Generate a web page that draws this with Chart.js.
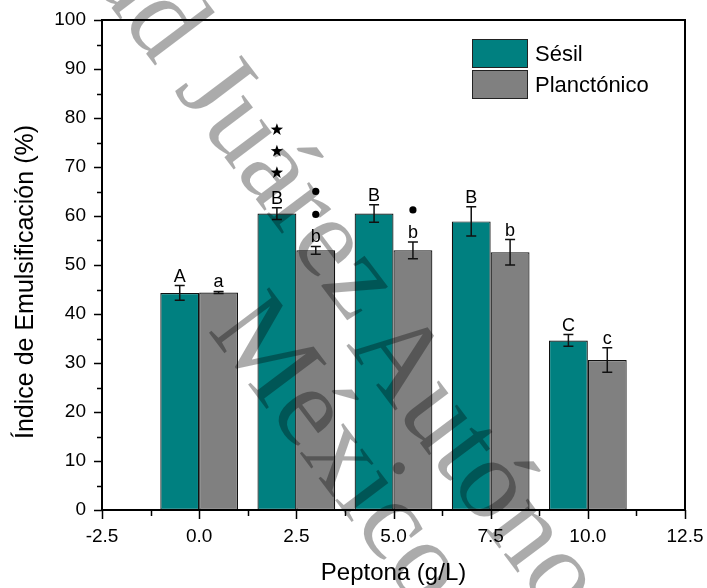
<!DOCTYPE html>
<html>
<head>
<meta charset="utf-8">
<script src="https://cdn.jsdelivr.net/npm/chart.js@4.4.0/dist/chart.umd.min.js"></script>
<style>
  html, body { margin: 0; padding: 0; background: #fff; }
</style>
</head>
<body>
<canvas id="chart" width="707" height="588"></canvas>
<script>
const peptona = [0, 2.5, 5, 7.5, 10];
const sesil = [44.3, 60.5, 60.5, 58.9, 34.6];
const sesilErr = [1.5, 1.2, 1.8, 3.0, 1.2];
const planctonico = [44.4, 53.0, 53.0, 52.6, 30.6];
const planctonicoErr = [0.2, 0.8, 1.7, 2.6, 2.5];
const sesilLetters = ['A', 'B', 'B', 'B', 'C'];
const planctonicoLetters = ['a', 'b', 'b', 'b', 'c'];
const sesilStars = [0, 3, 0, 0, 0];
const planctonicoDots = [0, 2, 1, 0, 0];

const FONT = '"Liberation Sans", Arial, sans-serif';
Chart.defaults.font.family = FONT;
Chart.defaults.color = '#000';

function drawStar(ctx, cx, cy, r) {
  ctx.beginPath();
  for (let k = 0; k < 10; k++) {
    const rad = k % 2 === 0 ? r : r * 0.4;
    const a = -Math.PI / 2 + k * Math.PI / 5;
    const px = cx + rad * Math.cos(a), py = cy + rad * Math.sin(a);
    if (k === 0) ctx.moveTo(px, py); else ctx.lineTo(px, py);
  }
  ctx.closePath();
  ctx.fill();
}

// quita el relleno extra que Chart.js deja para las etiquetas
function noPadding(s) {
  s.paddingTop = 0; s.paddingBottom = 0; s.paddingLeft = 0; s.paddingRight = 0;
}

const extras = {
  id: 'extras',
  afterDatasetsDraw(chart) {
    const ctx = chart.ctx;
    const y = chart.scales.y, x = chart.scales.x;
    const area = chart.chartArea;
    ctx.save();

    // ejes y marco
    ctx.strokeStyle = '#000';
    ctx.lineWidth = 2;
    ctx.strokeRect(area.left, area.top, area.right - area.left, area.bottom - area.top);
    ctx.lineWidth = 1.5;
    ctx.beginPath();
    for (let v = 0; v <= 100; v += 5) {
      const py = Math.round(y.getPixelForValue(v)) + 0.5;
      const len = v % 10 === 0 ? 8 : 5;
      ctx.moveTo(area.left - len, py);
      ctx.lineTo(area.left, py);
    }
    for (let k = 0; k <= 12; k++) {
      const px = Math.round(x.getPixelForValue(-2.5 + k * 1.25)) + 0.5;
      const len = k % 2 === 0 ? 9 : 6;
      ctx.moveTo(px, area.bottom);
      ctx.lineTo(px, area.bottom + len);
    }
    ctx.stroke();

    // barras de error, letras y marcas
    const errs = [sesilErr, planctonicoErr];
    const letters = [sesilLetters, planctonicoLetters];
    chart.data.datasets.forEach((ds, d) => {
      const meta = chart.getDatasetMeta(d);
      meta.data.forEach((bar, i) => {
        const v = ds.data[i].y;
        const top = y.getPixelForValue(v + errs[d][i]);
        const bot = y.getPixelForValue(v - errs[d][i]);
        ctx.strokeStyle = '#111';
        ctx.lineWidth = 1.5;
        ctx.beginPath();
        ctx.moveTo(bar.x, top); ctx.lineTo(bar.x, bot);
        ctx.moveTo(bar.x - 5, top); ctx.lineTo(bar.x + 5, top);
        ctx.moveTo(bar.x - 5, bot); ctx.lineTo(bar.x + 5, bot);
        ctx.stroke();

        const base = top - 4;
        ctx.fillStyle = '#000';
        ctx.font = '18px ' + FONT;
        ctx.textAlign = 'center';
        ctx.textBaseline = 'alphabetic';
        ctx.fillText(letters[d][i], bar.x, base);

        if (d === 0) {
          for (let k = 0; k < sesilStars[i]; k++) drawStar(ctx, bar.x, base - 31 - k * 21.5, 6.5);
        } else {
          for (let k = 0; k < planctonicoDots[i]; k++) {
            ctx.beginPath();
            ctx.arc(bar.x, base - 28 - k * 23, 3.6, 0, Math.PI * 2);
            ctx.fill();
          }
        }
      });
    });

    // leyenda
    chart.data.datasets.forEach((ds, d) => {
      const top = 39 + d * 31;
      ctx.fillStyle = ds.backgroundColor;
      ctx.fillRect(472, top, 55, 28);
      ctx.strokeStyle = '#222';
      ctx.lineWidth = 1;
      ctx.strokeRect(472.5, top + 0.5, 55, 28);
      ctx.fillStyle = '#000';
      ctx.font = '22px ' + FONT;
      ctx.textAlign = 'left';
      ctx.textBaseline = 'alphabetic';
      ctx.fillText(ds.label, 535, top + 22);
    });

    // título eje y
    ctx.translate(33, 282);
    ctx.rotate(-Math.PI / 2);
    ctx.font = '25px ' + FONT;
    ctx.textAlign = 'center';
    ctx.textBaseline = 'alphabetic';
    ctx.fillText('Índice de Emulsificación (%)', 0, 0);
    ctx.restore();
  },
  afterDraw(chart) {
    // marca de agua
    const ctx = chart.ctx;
    const fs = 115;
    const th = 53 * Math.PI / 180;
    const dx = Math.cos(th), dy = Math.sin(th);
    const ux = Math.sin(th), uy = -Math.cos(th);
    ctx.save();
    ctx.font = fs + 'px "Liberation Serif", "Times New Roman", serif';
    ctx.fillStyle = 'rgba(0,0,0,0.33)';
    ctx.textBaseline = 'alphabetic';
    ctx.textAlign = 'left';
    const pieces = [
      { text: 'Universidad Juárez', pre: 'Universidad Juár', ch: 'e', h: 0.23, cx: 325, cy: 247 },
      { text: 'Autónoma de Tabasco', pre: '', ch: 'A', h: 0.33, cx: 401, cy: 355 },
      { text: 'México', pre: '', ch: 'M', h: 0.33, cx: 268, cy: 348 }
    ];
    pieces.forEach(p => {
      const off = ctx.measureText(p.pre).width + ctx.measureText(p.ch).width / 2;
      const bx = p.cx - p.h * fs * ux, by = p.cy - p.h * fs * uy;
      ctx.save();
      ctx.translate(bx - off * dx, by - off * dy);
      ctx.rotate(th);
      ctx.fillText(p.text, 0, 0);
      ctx.restore();
    });
    ctx.restore();
  }
};

new Chart(document.getElementById('chart'), {
  type: 'bar',
  data: {
    datasets: [
      {
        label: 'Sésil',
        data: peptona.map((p, i) => ({ x: p, y: sesil[i] })),
        backgroundColor: '#008080',
        borderColor: '#111',
        borderWidth: 1.2,
        borderSkipped: false,
        categoryPercentage: 0.8,
        barPercentage: 1.0
      },
      {
        label: 'Planctónico',
        data: peptona.map((p, i) => ({ x: p, y: planctonico[i] })),
        backgroundColor: '#808080',
        borderColor: '#111',
        borderWidth: 1.2,
        borderSkipped: false,
        categoryPercentage: 0.8,
        barPercentage: 1.0
      }
    ]
  },
  options: {
    responsive: false,
    animation: false,
    layout: { padding: { left: 0, top: 20, right: 22, bottom: 0 } },
    plugins: { legend: { display: false }, tooltip: { enabled: false } },
    scales: {
      x: {
        type: 'linear',
        min: -2.5,
        max: 12.5,
        offset: false,
        grid: { display: false, drawTicks: false },
        border: { display: false },
        ticks: {
          stepSize: 2.5,
          padding: 15,
          font: { size: 19 },
          color: '#000',
          maxRotation: 0,
          callback: v => v.toFixed(1)
        },
        title: {
          display: true,
          text: 'Peptona (g/L)',
          font: { size: 24 },
          color: '#000',
          padding: { top: 0, bottom: 0 }
        },
        afterFit: s => { s.height = 78; noPadding(s); }
      },
      y: {
        min: 0,
        max: 100,
        grid: { display: false, drawTicks: false },
        border: { display: false },
        ticks: { stepSize: 10, padding: 16, font: { size: 19 }, color: '#000' },
        afterFit: s => { s.width = 102; noPadding(s); }
      }
    }
  },
  plugins: [extras]
});
</script>
</body>
</html>
